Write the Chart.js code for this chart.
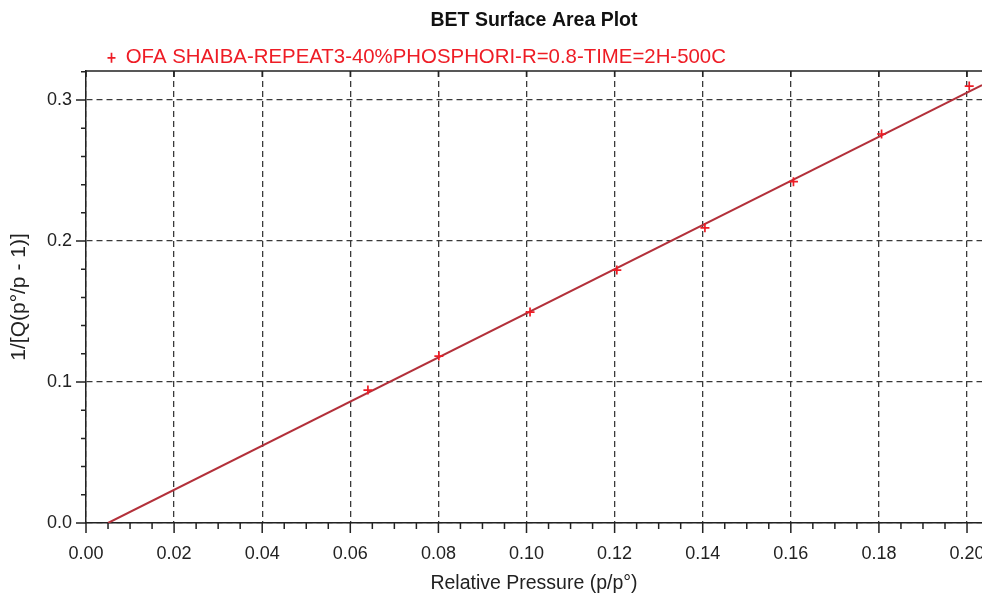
<!DOCTYPE html>
<html>
<head>
<meta charset="utf-8">
<script src="https://cdn.jsdelivr.net/npm/chart.js@4.4.1/dist/chart.umd.min.js"></script>
<style>
  html, body { margin: 0; padding: 0; background: #fff; overflow: hidden; }
  canvas { display: block; }
</style>
</head>
<body>
<canvas id="bet" width="990" height="594"></canvas>
<script>
// measured points (relative pressure vs 1/[Q(p°/p - 1)])
const pressure = [0.0640, 0.0801, 0.1008, 0.1205, 0.1405, 0.1606, 0.1806, 0.2005];
const betValue = [0.0943, 0.1184, 0.1496, 0.1794, 0.2094, 0.2421, 0.2759, 0.3099];

// fitted line end points
const fitX = [0.005, 0.2034];
const fitY = [0.0, 0.3106];

const xTicks = [0.00, 0.02, 0.04, 0.06, 0.08, 0.10, 0.12, 0.14, 0.16, 0.18, 0.20];
const yTicks = [0.0, 0.1, 0.2, 0.3];

const seriesName = 'OFA SHAIBA-REPEAT3-40%PHOSPHORI-R=0.8-TIME=2H-500C';

const font = 'Liberation Sans, Arial, sans-serif';

// outer ticks (major + minor) and the top frame line
const frame = {
    id: 'frame',
    afterLayout(chart) {
        const lg = chart.legend;
        lg.top += 7;
        lg.bottom += 7;
        lg.left = 102.5;
    },
    afterDraw(chart) {
        const {ctx, chartArea: a, scales: {x, y}} = chart;
        ctx.save();
        ctx.strokeStyle = '#222';
        ctx.lineWidth = 1.5;
        ctx.beginPath();
        ctx.moveTo(a.left, a.top);
        ctx.lineTo(a.right, a.top);

        x.ticks.forEach(t => {
            const px = x.getPixelForValue(t.value);
            ctx.moveTo(px, a.bottom);
            ctx.lineTo(px, a.bottom + 10);
            ctx.moveTo(px, a.top);
            ctx.lineTo(px, a.top + 6);
            for (let k = 1; k < 4; k++) {
                const m = t.value + k * 0.005;
                if (m > x.max) break;
                const pm = x.getPixelForValue(m);
                ctx.moveTo(pm, a.bottom);
                ctx.lineTo(pm, a.bottom + 6);
            }
        });

        y.ticks.forEach(t => {
            const py = y.getPixelForValue(t.value);
            ctx.moveTo(a.left, py);
            ctx.lineTo(a.left - 10, py);
            for (let k = 1; k < 5; k++) {
                const m = t.value + k * 0.02;
                if (m > y.max) break;
                const pm = y.getPixelForValue(m);
                ctx.moveTo(a.left, pm);
                ctx.lineTo(a.left - 5, pm);
            }
        });
        ctx.stroke();
        ctx.restore();
    }
};

new Chart(document.getElementById('bet'), {
    type: 'scatter',
    data: {
        datasets: [
            {
                label: seriesName,
                data: pressure.map((p, i) => ({x: p, y: betValue[i]})),
                pointStyle: 'cross',
                pointRadius: 4.5,
                pointHoverRadius: 4.5,
                borderColor: '#ee1c25',
                backgroundColor: '#ee1c25',
                borderWidth: 1.7
            },
            {
                label: 'fit',
                data: fitX.map((p, i) => ({x: p, y: fitY[i]})),
                showLine: true,
                borderColor: '#b3303a',
                borderWidth: 2,
                pointRadius: 0
            }
        ]
    },
    options: {
        responsive: false,
        animation: false,
        layout: { padding: { left: 0, right: 8, top: 0, bottom: 0 } },
        plugins: {
            title: {
                display: true,
                text: 'BET Surface Area Plot',
                fullSize: false,
                color: '#111',
                font: { family: font, size: 19.5, weight: 'bold' },
                padding: { top: 9.3, bottom: 2.9 }
            },
            legend: {
                display: true,
                align: 'start',
                fullSize: false,
                labels: {
                    filter: item => item.datasetIndex === 0,
                    usePointStyle: true,
                    pointStyleWidth: 8,
                    boxHeight: 7,
                    padding: 5,
                    color: '#ee1c25',
                    font: { family: font, size: 20.4 }
                }
            },
            tooltip: { enabled: false }
        },
        scales: {
            x: {
                type: 'linear',
                min: 0,
                max: 0.2034,
                afterBuildTicks: s => { s.ticks = xTicks.map(v => ({value: v})); },
                afterFit: s => {
                    s.height = 71;
                    s.paddingLeft = 0;
                    s.paddingRight = 0;
                },
                ticks: {
                    color: '#222',
                    padding: 20.5,
                    maxRotation: 0,
                    font: { family: font, size: 18 },
                    callback: v => v.toFixed(2)
                },
                grid: {
                    drawTicks: false,
                    color: '#3a3a3a',
                    lineWidth: 1.3
                },
                border: { display: true, color: '#222', width: 1.5, dash: [6, 4] },
                title: {
                    display: true,
                    text: 'Relative Pressure (p/p°)',
                    color: '#222',
                    font: { family: font, size: 19.5 },
                    padding: { top: 0, bottom: -1.5 }
                }
            },
            y: {
                type: 'linear',
                min: 0,
                max: 0.3206,
                afterBuildTicks: s => { s.ticks = yTicks.map(v => ({value: v})); },
                afterFit: s => { s.width = 86; },
                ticks: {
                    color: '#222',
                    padding: 14,
                    font: { family: font, size: 18 },
                    callback: v => v.toFixed(1)
                },
                grid: {
                    drawTicks: false,
                    color: '#3a3a3a',
                    lineWidth: 1.3
                },
                border: { display: true, color: '#222', width: 1.5, dash: [6, 4] },
                title: {
                    display: true,
                    text: '1/[Q(p°/p - 1)]',
                    color: '#222',
                    font: { family: font, size: 21 },
                    padding: { top: 7, bottom: 0 }
                }
            }
        }
    },
    plugins: [frame]
});
</script>
</body>
</html>
